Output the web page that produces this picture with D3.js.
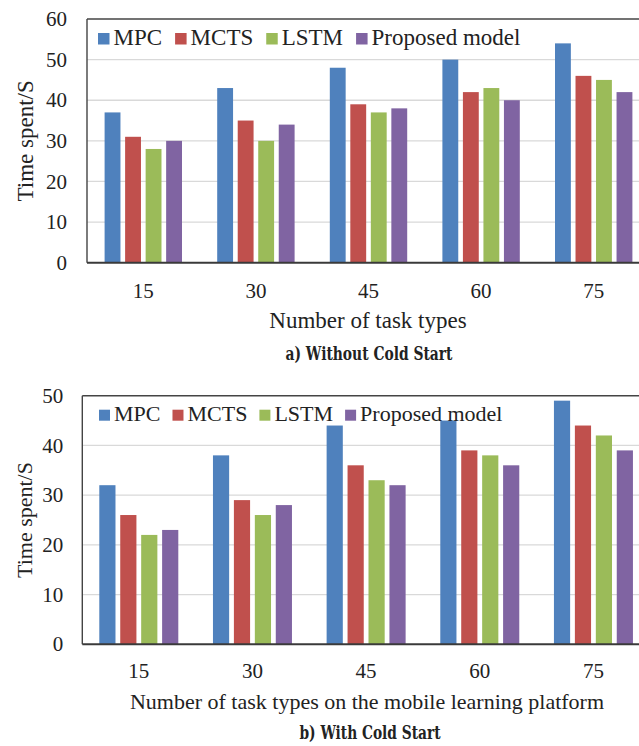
<!DOCTYPE html>
<html>
<head>
<meta charset="utf-8">
<script src="https://cdn.jsdelivr.net/npm/d3@7"></script>
<style>
  html, body { margin: 0; padding: 0; background: #fff; }
  svg { display: block; }
  text { font-family: "Liberation Serif", "Times New Roman", serif; fill: #222; }
  .cap { font-family: "DejaVu Serif Condensed", "DejaVu Serif", serif; font-stretch: condensed; font-weight: bold; }
</style>
</head>
<body>
<svg id="chart" width="639" height="746"></svg>
<script>
// ---- data ----
const categories = ["15", "30", "45", "60", "75"];
const seriesNames = ["MPC", "MCTS", "LSTM", "Proposed model"];
const colors = ["#4F81BD", "#C0504D", "#9BBB59", "#8064A2"];

// a) Without Cold Start
const aMPC = [37, 43, 48, 50, 54];
const aMCTS = [31, 35, 39, 42, 46];
const aLSTM = [28, 30, 37, 43, 45];
const aProposed = [30, 34, 38, 40, 42];
const aTicks = [0, 10, 20, 30, 40, 50, 60];

// b) With Cold Start
const bMPC = [32, 38, 44, 45, 49];
const bMCTS = [26, 29, 36, 39, 44];
const bLSTM = [22, 26, 33, 38, 42];
const bProposed = [23, 28, 32, 36, 39];
const bTicks = [0, 10, 20, 30, 40, 50];

const svg = d3.select("#chart");

function drawChart(cfg) {
  const g = svg.append("g");
  const series = [cfg.s0, cfg.s1, cfg.s2, cfg.s3];
  const x0 = d3.scaleBand().domain(categories).range([cfg.left, cfg.right]).padding(0);
  const x1 = d3.scaleBand().domain(seriesNames).range([cfg.innerL, cfg.innerR]).paddingInner(0.227);
  const y = d3.scaleLinear().domain([0, d3.max(cfg.ticks)]).range([cfg.bottom, cfg.top]);

  // gridlines
  g.append("g").selectAll("line").data(cfg.ticks.filter(t => t > 0 && t < d3.max(cfg.ticks)))
    .join("line")
    .attr("x1", cfg.left).attr("x2", cfg.right)
    .attr("y1", d => y(d)).attr("y2", d => y(d))
    .attr("stroke", "#d9d9d9").attr("stroke-width", 1.3);

  // bars
  const groups = g.append("g").selectAll("g").data(categories).join("g")
    .attr("transform", c => `translate(${x0(c)},0)`);
  groups.selectAll("rect")
    .data((c, i) => seriesNames.map((s, k) => ({ s, k, v: series[k][i] })))
    .join("rect")
    .attr("x", d => x1(d.s))
    .attr("width", x1.bandwidth())
    .attr("y", d => y(d.v))
    .attr("height", d => y(0) - y(d.v))
    .attr("fill", d => colors[d.k]);

  // box: top and left border, bottom axis
  g.append("line").attr("x1", cfg.left).attr("x2", cfg.right + 5)
    .attr("y1", y(d3.max(cfg.ticks))).attr("y2", y(d3.max(cfg.ticks)))
    .attr("stroke", "#444").attr("stroke-width", 1.4);
  g.append("line").attr("x1", cfg.left).attr("x2", cfg.left)
    .attr("y1", y(d3.max(cfg.ticks))).attr("y2", y(0))
    .attr("stroke", "#444").attr("stroke-width", 1.4);
  g.append("line").attr("x1", cfg.left).attr("x2", cfg.right + 5)
    .attr("y1", y(0)).attr("y2", y(0))
    .attr("stroke", "#3a3a3a").attr("stroke-width", 2);

  // y tick labels
  g.append("g").selectAll("text").data(cfg.ticks).join("text")
    .attr("x", cfg.left - cfg.tickGap)
    .attr("y", d => y(d))
    .attr("dy", "0.34em")
    .attr("text-anchor", "end")
    .attr("font-size", cfg.tickSize)
    .text(d => d);

  // x tick labels
  g.append("g").selectAll("text").data(categories).join("text")
    .attr("x", c => x0(c) + (cfg.innerL + cfg.innerR) / 2)
    .attr("y", cfg.xTickY)
    .attr("text-anchor", "middle")
    .attr("font-size", cfg.tickSize)
    .text(c => c);

  // y title
  g.append("text")
    .attr("transform", `translate(${cfg.yTitleX},${(y(0) + y(d3.max(cfg.ticks))) / 2}) rotate(-90)`)
    .attr("text-anchor", "middle")
    .attr("dy", "0.34em")
    .attr("font-size", cfg.titleSize)
    .text("Time spent/S");

  // x title
  g.append("text")
    .attr("x", cfg.xTitleCX).attr("y", cfg.xTitleY)
    .attr("text-anchor", "middle")
    .attr("font-size", cfg.titleSize)
    .text(cfg.xTitle);

  // caption
  g.append("text").attr("class", "cap")
    .attr("x", cfg.capCX).attr("y", cfg.capY)
    .attr("text-anchor", "middle")
    .attr("font-size", cfg.capSize)
    .attr("textLength", cfg.capW).attr("lengthAdjust", "spacingAndGlyphs")
    .text(cfg.caption);

  // legend
  let lx = cfg.legX;
  seriesNames.forEach((s, k) => {
    g.append("rect").attr("x", lx).attr("y", cfg.legY - cfg.sq)
      .attr("width", cfg.sq).attr("height", cfg.sq).attr("fill", colors[k]);
    const t = g.append("text").attr("x", lx + cfg.sq + 4).attr("y", cfg.legY)
      .attr("font-size", cfg.legSize).text(s);
    lx += cfg.sq + 4 + t.node().getComputedTextLength() + cfg.legGap;
  });
}

drawChart({
  s0: aMPC, s1: aMCTS, s2: aLSTM, s3: aProposed, ticks: aTicks,
  left: 87, right: 650, top: 19, bottom: 262.7,
  innerL: 17.6, innerR: 95,
  tickGap: 20, tickSize: 21, xTickY: 298,
  yTitleX: 25, titleSize: 23,
  xTitle: "Number of task types", xTitleCX: 368, xTitleY: 328,
  caption: "a) Without Cold Start", capCX: 369, capY: 360, capSize: 18, capW: 167,
  legX: 98, legY: 44.5, sq: 11.5, legSize: 23, legGap: 13
});

drawChart({
  s0: bMPC, s1: bMCTS, s2: bLSTM, s3: bProposed, ticks: bTicks,
  left: 82.3, right: 650.6, top: 395.7, bottom: 644.3,
  innerL: 17, innerR: 96,
  tickGap: 19, tickSize: 21, xTickY: 678,
  yTitleX: 25, titleSize: 22,
  xTitle: "Number of task types on the mobile learning platform", xTitleCX: 367, xTitleY: 709,
  caption: "b) With Cold Start", capCX: 370, capY: 739, capSize: 18, capW: 141,
  legX: 99, legY: 420.7, sq: 11, legSize: 22, legGap: 12
});
</script>
</body>
</html>
